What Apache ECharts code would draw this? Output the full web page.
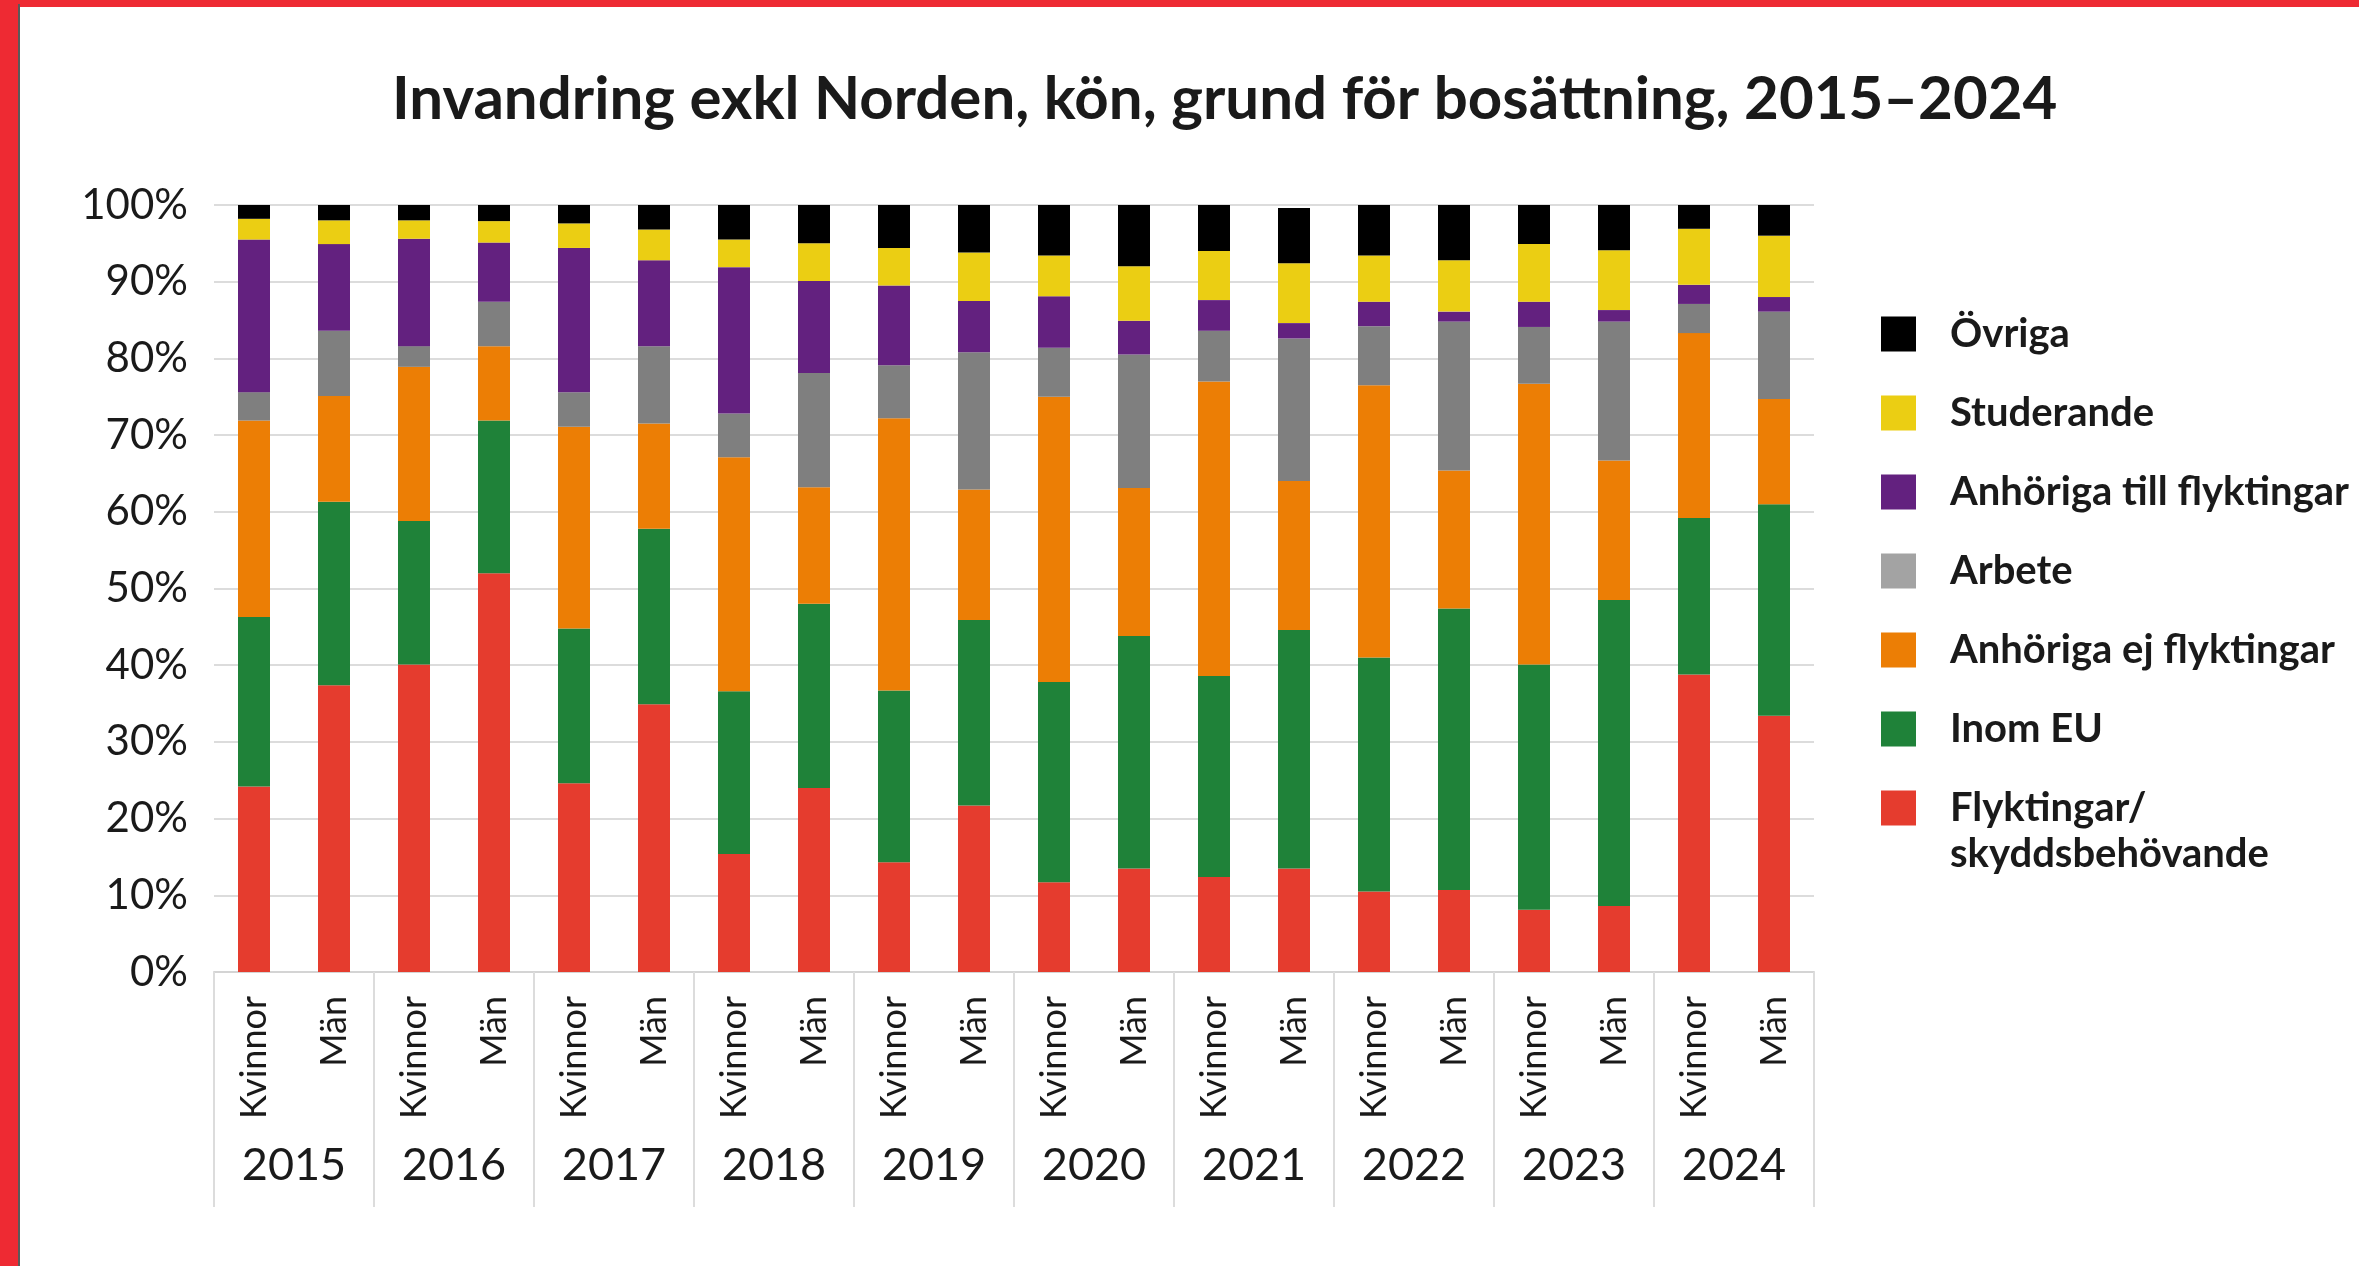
<!DOCTYPE html>
<html>
<head>
<meta charset="utf-8">
<script src="https://cdn.jsdelivr.net/npm/echarts@6/dist/echarts.min.js"></script>
<style>
  html, body { margin: 0; padding: 0; background: #ffffff; }
  #chart { width: 2359px; height: 1266px; }
</style>
</head>
<body>
<div id="chart"></div>
<script>
// ---- Data ----
const years = ['2015','2016','2017','2018','2019','2020','2021','2022','2023','2024'];
const genders = ['Kvinnor','Män'];
const yTicks = ['0%','10%','20%','30%','40%','50%','60%','70%','80%','90%','100%'];

const flyktingar    = [24.2,37.4,40.1,52.0,24.6,34.9,15.4,24.0,14.3,21.7,11.7,13.5,12.4,13.5,10.5,10.7,8.1,8.6,38.8,33.4];
const inomEU        = [22.1,23.9,18.7,19.9,20.2,22.9,21.2,24.0,22.4,24.2,26.1,30.3,26.2,31.1,30.5,36.7,32.0,39.9,20.4,27.6];
const anhorigaEj    = [25.6,13.8,20.1,9.7,26.3,13.7,30.5,15.2,35.5,17.0,37.2,19.3,38.4,19.4,35.5,18.0,36.6,18.2,24.1,13.7];
const arbete        = [3.7,8.5,2.7,5.8,4.5,10.1,5.7,14.9,6.9,17.9,6.4,17.4,6.6,18.6,7.7,19.4,7.4,18.1,3.8,11.4];
const anhorigaFlykt = [19.9,11.3,14.0,7.7,18.8,11.2,19.1,12.0,10.4,6.7,6.7,4.4,4.0,2.0,3.2,1.3,3.3,1.5,2.5,1.9];
const studerande    = [2.7,3.1,2.4,2.8,3.2,4.0,3.6,4.9,4.9,6.3,5.3,7.1,6.4,7.8,6.0,6.7,7.5,7.8,7.3,8.0];
const ovriga        = [1.8,2.0,2.0,2.1,2.4,3.2,4.5,5.0,5.6,6.2,6.6,8.0,6.0,7.2,6.6,7.2,5.1,5.9,3.1,4.0];

const seriesNames = ['Flyktingar/skyddsbehövande','Inom EU','Anhöriga ej flyktingar','Arbete','Anhöriga till flyktingar','Studerande','Övriga'];
const seriesData = [flyktingar, inomEU, anhorigaEj, arbete, anhorigaFlykt, studerande, ovriga];
const seriesColors = ['#E53C2E','#1F8239','#EC7E05','#7F7F7F','#63217F','#EBCE13','#000000'];
const legendOrder = ['Övriga','Studerande','Anhöriga till flyktingar','Arbete','Anhöriga ej flyktingar','Inom EU','Flyktingar/skyddsbehövande'];

const categories = years.flatMap(() => genders);

const FONT = 'Lato';
const TXT = '#1a1a1a';

const chart = echarts.init(document.getElementById('chart'), null, {renderer: 'canvas'});

const option = {
  backgroundColor: '#ffffff',
  animation: false,
  title: {
    text: 'Invandring exkl Norden, kön, grund för bosättning, 2015–2024',
    left: 392,
    top: 70,
    padding: 0,
    textStyle: { fontFamily: FONT, fontWeight: 'bold', fontSize: 60, color: TXT }
  },
  grid: { left: 214, right: 545, top: 205, bottom: 294, containLabel: false },
  legend: {
    orient: 'vertical',
    left: 1881,
    top: 314,
    padding: 0,
    itemWidth: 35,
    itemHeight: 35,
    itemGap: 39,
    icon: 'rect',
    selectedMode: false,
    formatter: function (name) { return name === 'Flyktingar/skyddsbehövande' ? 'Flyktingar/' : name; },
    textStyle: { fontFamily: FONT, fontWeight: 'bold', fontSize: 40, color: TXT, lineHeight: 35, padding: [0,0,0,29] },
    data: legendOrder.map(n => n === 'Arbete' ? { name: n, itemStyle: { color: '#A3A3A3' } } : { name: n })
  },
  graphic: [
    { type: 'rect', left: 0, top: 0, shape: { width: 2359, height: 7 }, style: { fill: '#EE2A33' }, silent: true },
    { type: 'rect', left: 0, top: 0, shape: { width: 18, height: 1266 }, style: { fill: '#EE2A33' }, silent: true },
    { type: 'rect', left: 18, top: 4, shape: { width: 2, height: 1262 }, style: { fill: '#5a5a5a' }, silent: true },
    { type: 'text', left: 1950, top: 834, style: { text: 'skyddsbehövande', font: 'bold 40px Lato', fill: TXT }, silent: true }
  ],
  xAxis: [
    {
      type: 'category',
      data: categories,
      position: 'bottom',
      axisLine: { show: true, lineStyle: { color: '#d4d4d4', width: 2 } },
      axisTick: { show: false },
      axisLabel: { rotate: 90, fontFamily: FONT, fontSize: 36, color: TXT, margin: 24, interval: 0 },
      splitLine: { show: false }
    },
    {
      type: 'category',
      data: years,
      position: 'bottom',
      axisLine: { show: false },
      axisTick: { show: true, length: 235, lineStyle: { color: '#dcdcdc', width: 2 } },
      axisLabel: { fontFamily: FONT, fontSize: 45, color: TXT, margin: 171, interval: 0 },
      splitLine: { show: false }
    }
  ],
  yAxis: {
    type: 'value',
    min: 0,
    max: 100,
    interval: 10,
    axisLine: { show: false },
    axisTick: { show: false },
    axisLabel: {
      fontFamily: FONT, fontSize: 42, color: TXT, margin: 26,
      formatter: function (v) { return yTicks[Math.round(v / 10)]; }
    },
    splitLine: { show: true, lineStyle: { color: '#dcdcdc', width: 2 } }
  },
  series: seriesNames.map((name, i) => ({
    name: name,
    type: 'bar',
    stack: 'total',
    xAxisIndex: 0,
    barWidth: 32,
    data: seriesData[i],
    itemStyle: { color: seriesColors[i] }
  }))
};

chart.setOption(option);
</script>
</body>
</html>
